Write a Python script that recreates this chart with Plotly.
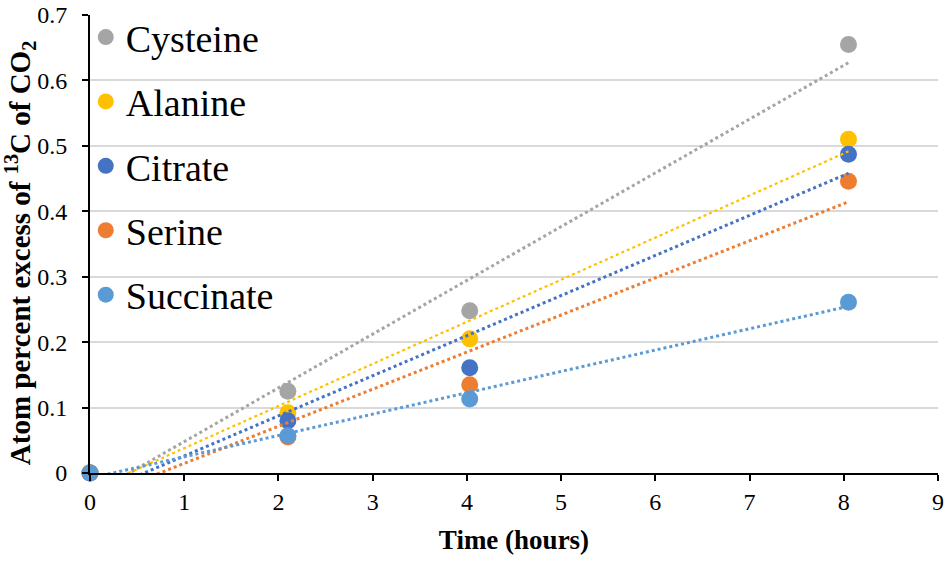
import numpy as np
import plotly.graph_objects as go

names = ["Cysteine", "Alanine", "Citrate", "Serine", "Succinate"]
colors = ["#A5A5A5", "#FFC000", "#4472C4", "#ED7D31", "#5B9BD5"]
time_h = [0, 2.1, 4.03, 8.05]
cysteine = [0, 0.125, 0.248, 0.655]
alanine = [0, 0.092, 0.205, 0.510]
citrate = [0, 0.080, 0.161, 0.487]
serine = [0, 0.055, 0.135, 0.446]
succinate = [0, 0.057, 0.113, 0.261]
series = [cysteine, alanine, citrate, serine, succinate]
line_widths = [3, 2.2, 3, 3, 3]
y_title = "<b>Atom percent excess of <sup>13</sup>C of CO<sub>2</sub></b>"

font = "Liberation Serif, Times New Roman, serif"
fig = go.Figure()

for n, c, ys in zip(names, colors, series):
    fig.add_trace(go.Scatter(
        x=time_h, y=ys, mode="markers", name=n, legendgroup=n,
        marker=dict(color=c, size=17, line=dict(width=0)),
        cliponaxis=False,
    ))

for n, c, ys, w in zip(names, colors, series, line_widths):
    slope, icpt = np.polyfit(time_h, ys, 1)
    xs = [min(time_h), max(time_h)]
    fig.add_trace(go.Scatter(
        x=xs, y=[slope * v + icpt for v in xs], mode="lines",
        line=dict(color=c, width=w, dash="dot"),
        showlegend=False, hoverinfo="skip",
    ))

fig.update_layout(
    width=945, height=562,
    margin=dict(l=90, r=7, t=15, b=89, autoexpand=False),
    paper_bgcolor="white", plot_bgcolor="white",
    font=dict(family=font, color="black", size=24),
    legend=dict(
        x=-0.005, y=1.02, xanchor="left", yanchor="top",
        font=dict(family=font, size=38, color="black"),
        bgcolor="rgba(0,0,0,0)", traceorder="grouped", tracegroupgap=12,
        itemwidth=30, maxheight=1.0,
    ),
    xaxis=dict(
        range=[0, 9], dtick=1, showgrid=False, zeroline=False,
        showline=True, linecolor="black", linewidth=2,
        ticks="outside", ticklen=6, tickwidth=2, tickcolor="black",
        tickfont=dict(size=24, family=font), ticklabeloverflow="allow",
        title=dict(text="<b>Time (hours)</b>", font=dict(size=27, family=font), standoff=16),
    ),
    yaxis=dict(
        range=[0, 0.7], dtick=0.1, showgrid=True, gridcolor="#D9D9D9", gridwidth=2,
        zeroline=False, showline=True, linecolor="black", linewidth=2,
        ticks="outside", ticklen=6, tickwidth=2, tickcolor="black",
        tickfont=dict(size=24, family=font), tickformat="~g",
        ticklabeloverflow="allow", ticklabelstandoff=10,
    ),
    annotations=[dict(
        text=y_title, xref="paper", yref="paper", x=-0.0825, y=0.48,
        xanchor="center", yanchor="middle", textangle=-90, showarrow=False,
        font=dict(size=29, family=font, color="black"),
    )],
)

fig.write_html(
    "out.html",
    config={"displayModeBar": False},
    post_script="document.body.style.margin='0';document.body.style.overflow='hidden';",
)
